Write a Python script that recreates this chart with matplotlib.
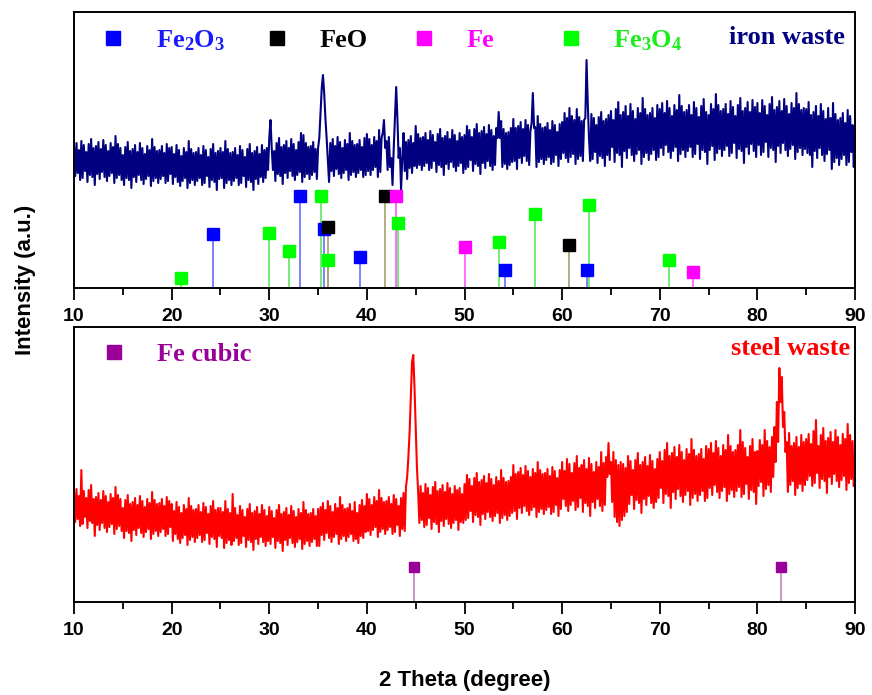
import numpy as np
import matplotlib
matplotlib.use("Agg")
import matplotlib.pyplot as plt

plt.rcParams["mathtext.fontset"] = "custom"
plt.rcParams["mathtext.bf"] = "Liberation Serif:bold"
plt.rcParams["mathtext.rm"] = "Liberation Serif:bold"
plt.rcParams["mathtext.default"] = "bf"

# XRD scans, 2-theta step 0.125 deg from 10 to 90 (intensity in a.u.), one row = 5 deg
step = 0.125
iron = [
    141, 112, 145, 115, 138, 108, 147, 110, 143, 117, 136, 106, 144, 113, 149, 111, 140, 103, 142, 114,
    146, 109, 139, 116, 148, 111, 143, 107, 137, 112, 145, 115, 141, 105, 152, 110, 144, 113, 140, 108,
    133, 103, 141, 110, 146, 108, 137, 100, 139, 111, 143, 106, 136, 113, 145, 108, 140, 104, 134, 109,
    142, 112, 138, 102, 149, 107, 141, 110, 137, 105, 138, 109, 142, 112, 135, 105, 144, 107, 140, 114,
    141, 104, 134, 111, 143, 106, 138, 102, 132, 107, 140, 110, 136, 100, 147, 105, 139, 108, 135, 103,
    136, 107, 140, 110, 133, 103, 142, 105, 138, 112, 131, 101, 139, 108, 144, 106, 135, 98, 137, 109,
    140, 110, 136, 100, 147, 105, 139, 108, 135, 103, 136, 107, 140, 110, 133, 103, 142, 105, 138, 112,
    131, 101, 139, 108, 144, 106, 135, 98, 137, 109, 141, 104, 134, 111, 143, 106, 138, 110, 140, 118,
    150, 168, 140, 118, 137, 107, 145, 114, 150, 112, 141, 104, 143, 115, 147, 110, 140, 117, 149, 112,
    144, 108, 138, 113, 146, 116, 155, 106, 153, 111, 145, 114, 141, 109, 142, 113, 146, 116, 139, 109,
    140, 150, 175, 200, 213, 195, 170, 150, 128, 106, 145, 117, 149, 112, 142, 119, 151, 114, 146, 110,
    140, 115, 148, 118, 144, 108, 155, 113, 147, 116, 143, 111, 144, 115, 148, 118, 141, 111, 150, 113,
    154, 117, 149, 113, 143, 118, 151, 121, 147, 111, 158, 116, 150, 155, 168, 140, 147, 118, 151, 121,
    130, 103, 140, 170, 201, 170, 130, 140, 98, 130, 155, 117, 146, 109, 148, 120, 152, 115, 145, 122,
    162, 120, 154, 123, 150, 118, 151, 122, 155, 125, 148, 118, 157, 120, 153, 127, 146, 116, 154, 123,
    159, 121, 150, 113, 152, 124, 156, 119, 149, 126, 158, 121, 153, 117, 147, 122, 155, 125, 151, 115,
    153, 119, 162, 121, 158, 128, 151, 117, 159, 124, 164, 122, 155, 114, 157, 125, 161, 120, 154, 127,
    163, 122, 158, 118, 152, 123, 160, 150, 176, 150, 167, 121, 159, 124, 155, 119, 156, 123, 160, 126,
    169, 127, 160, 119, 162, 130, 166, 125, 159, 132, 168, 127, 163, 123, 157, 165, 195, 160, 161, 121,
    172, 126, 164, 129, 160, 124, 161, 128, 165, 131, 158, 124, 167, 126, 163, 133, 156, 122, 164, 129,
    166, 135, 175, 130, 170, 126, 180, 131, 172, 134, 168, 124, 179, 129, 171, 132, 167, 127, 168, 170,
    228, 185, 150, 127, 174, 129, 170, 136, 163, 125, 171, 132, 176, 130, 167, 122, 169, 133, 173, 128,
    177, 141, 168, 126, 179, 135, 186, 133, 173, 121, 176, 137, 182, 130, 172, 140, 184, 133, 177, 127,
    169, 134, 180, 138, 175, 124, 190, 131, 179, 135, 173, 128, 175, 134, 180, 138, 170, 128, 183, 131,
    179, 140, 185, 133, 175, 143, 187, 136, 180, 130, 172, 137, 183, 141, 178, 127, 193, 134, 182, 138,
    176, 131, 178, 137, 183, 141, 173, 131, 186, 134, 180, 144, 171, 129, 182, 138, 189, 136, 176, 124,
    173, 138, 184, 142, 179, 128, 194, 135, 183, 139, 177, 132, 179, 138, 184, 142, 174, 132, 187, 135,
    181, 145, 172, 130, 183, 139, 190, 137, 177, 125, 180, 141, 186, 134, 176, 144, 188, 137, 181, 131,
    185, 143, 175, 133, 188, 136, 182, 146, 173, 131, 184, 140, 191, 138, 178, 126, 181, 142, 187, 135,
    177, 145, 189, 138, 182, 132, 174, 139, 185, 143, 180, 129, 195, 136, 184, 140, 178, 133, 180, 139,
    179, 135, 186, 133, 173, 121, 176, 137, 182, 130, 172, 140, 184, 133, 177, 127, 169, 134, 180, 138,
    170, 119, 185, 126, 174, 130, 168, 123, 170, 129, 175, 133, 165, 123, 178, 126, 172, 136, 163, 121,
    150,
]
steel = [
    109, 80, 113, 83, 106, 76, 132, 78, 111, 85, 104, 74, 112, 81, 117, 79, 103, 66, 105, 77,
    109, 72, 102, 79, 111, 74, 106, 70, 100, 75, 108, 78, 104, 68, 115, 73, 107, 76, 103, 71,
    94, 64, 102, 71, 107, 69, 98, 61, 100, 72, 104, 67, 97, 74, 106, 69, 101, 65, 95, 70,
    103, 73, 99, 63, 110, 68, 102, 71, 98, 66, 99, 70, 103, 73, 96, 66, 105, 68, 101, 75,
    98, 61, 91, 68, 100, 63, 95, 59, 89, 64, 97, 67, 93, 57, 104, 62, 96, 65, 92, 60,
    93, 64, 97, 67, 90, 60, 99, 62, 95, 69, 88, 58, 96, 65, 101, 63, 92, 55, 94, 66,
    94, 64, 90, 54, 101, 59, 93, 62, 89, 57, 108, 61, 94, 64, 87, 57, 96, 59, 92, 66,
    85, 55, 93, 62, 98, 60, 89, 52, 91, 63, 95, 58, 88, 65, 97, 60, 92, 56, 86, 61,
    95, 58, 91, 65, 84, 54, 92, 61, 97, 59, 88, 51, 90, 62, 94, 57, 87, 64, 96, 59,
    91, 55, 85, 60, 93, 63, 89, 53, 100, 58, 92, 61, 88, 56, 89, 60, 93, 63, 86, 56,
    93, 56, 95, 67, 99, 62, 92, 69, 101, 64, 96, 60, 90, 65, 98, 68, 94, 58, 105, 63,
    97, 66, 93, 61, 94, 65, 98, 68, 91, 61, 100, 63, 89, 59, 97, 66, 102, 64, 96, 70,
    108, 71, 103, 67, 97, 72, 105, 75, 101, 65, 112, 70, 104, 73, 100, 68, 101, 72, 105, 75,
    98, 68, 107, 70, 103, 77, 96, 66, 104, 73, 109, 71, 115, 125, 145, 170, 205, 240, 247, 215,
    175, 135, 110, 79, 116, 82, 109, 75, 118, 77, 114, 84, 107, 73, 115, 80, 120, 78, 111, 70,
    113, 81, 117, 76, 110, 83, 119, 78, 114, 74, 108, 79, 116, 82, 112, 72, 114, 80, 108, 79,
    118, 82, 127, 84, 123, 91, 116, 80, 124, 87, 129, 85, 120, 77, 122, 88, 126, 83, 119, 90,
    128, 85, 123, 81, 117, 86, 125, 89, 121, 79, 132, 84, 124, 87, 120, 82, 121, 86, 125, 89,
    137, 91, 128, 83, 130, 94, 134, 89, 127, 96, 136, 91, 131, 87, 125, 92, 133, 95, 129, 85,
    140, 90, 132, 93, 128, 88, 129, 92, 133, 95, 126, 88, 135, 90, 131, 97, 124, 86, 132, 93,
    140, 103, 131, 96, 143, 91, 138, 97, 129, 101, 139, 92, 146, 95, 134, 104, 137, 90, 142, 99,
    133, 96, 144, 86, 138, 100, 130, 94, 140, 103, 135, 96, 150, 91, 139, 97, 145, 125, 159, 128,
    140, 100, 150, 85, 142, 80, 137, 76, 140, 82, 138, 86, 134, 90, 146, 98, 141, 107, 132, 93,
    142, 102, 149, 99, 137, 89, 140, 103, 145, 97, 136, 106, 147, 99, 141, 94, 133, 100, 143, 104,
    150, 114, 141, 99, 152, 108, 159, 106, 146, 94, 149, 110, 155, 103, 145, 113, 157, 106, 150, 100,
    142, 107, 153, 111, 148, 97, 163, 104, 152, 108, 146, 101, 148, 107, 153, 111, 143, 101, 156, 104,
    153, 114, 159, 107, 149, 117, 161, 110, 154, 104, 146, 111, 157, 115, 152, 101, 167, 108, 156, 112,
    150, 105, 152, 111, 157, 115, 172, 105, 160, 108, 154, 118, 145, 103, 156, 112, 163, 110, 150, 98,
    151, 116, 162, 120, 157, 106, 172, 113, 161, 117, 155, 110, 165, 125, 175, 140, 200, 160, 234, 200,
    225, 175, 190, 150, 160, 110, 169, 117, 156, 121, 159, 107, 165, 114, 155, 118, 167, 111, 160, 117,
    163, 122, 168, 126, 158, 116, 171, 119, 182, 129, 156, 114, 167, 123, 174, 121, 161, 109, 164, 125,
    170, 118, 160, 128, 172, 121, 165, 115, 157, 122, 168, 126, 163, 112, 178, 119, 167, 123, 161, 116,
    140,
]
assert len(iron) == 641 and len(steel) == 641

# reference patterns (position, relative height)
fe2o3_pos = [24.2, 33.1, 35.6, 39.3, 54.1, 62.5]
fe2o3_h = [54, 92, 59, 31, 18, 18]
fe3o4_pos = [21.0, 30.0, 32.0, 35.3, 36.0, 43.2, 53.5, 57.2, 62.8, 70.9]
fe3o4_h = [10, 55, 37, 92, 28, 65, 46, 74, 83, 28]
feo_pos = [36.0, 41.9, 60.7]
feo_h = [61, 92, 43]
fe_pos = [43.0, 50.0, 73.4]
fe_h = [92, 41, 16]
fecub_pos = [44.8, 82.4]
fecub_h = [35, 35]

theta_i = 10 + step * np.arange(len(iron))
theta_s = 10 + step * np.arange(len(steel))

fig = plt.figure(figsize=(8.72, 6.95), dpi=100)
ax1 = fig.add_axes([0.0849, 0.5856, 0.8956, 0.3971])
ax2 = fig.add_axes([0.0849, 0.1338, 0.8956, 0.3957])

serif = "Liberation Serif"

def stems(ax, pos, h, stem_c, mark_c, ms=8.4):
    for p, v in zip(pos, h):
        ax.plot([p, p], [0, v], color=stem_c, lw=1.2, zorder=2)
    ax.plot(pos, h, "s", color=mark_c, ms=ms, mec=mark_c, zorder=3, clip_on=False)

ax1.plot(theta_i, iron, color="#000080", lw=1.5, zorder=1)
stems(ax1, fe2o3_pos, fe2o3_h, "#6b6bff", "#0000ff")
stems(ax1, fe3o4_pos, fe3o4_h, "#5ee65e", "#00ff00")
stems(ax1, feo_pos, feo_h, "#a89f6a", "#000000")
stems(ax1, fe_pos, fe_h, "#ff55ff", "#ff00ff")

# phase legend row
leg = [(13.97, 18.4, r"Fe$_{2}$O$_{3}$", "#0000ff", "#1a1aff"),
       (30.77, 35.1, "FeO", "#000000", "#000000"),
       (45.86, 50.2, "Fe", "#ff00ff", "#ff00ff"),
       (60.9, 65.2, r"Fe$_{3}$O$_{4}$", "#00ff00", "#1aee1a")]
for mx, tx, lab, mc, tc in leg:
    ax1.plot([mx], [250], "s", color=mc, ms=10)
    ax1.text(tx, 241, lab, color=tc, fontsize=19, fontweight="bold",
             family=serif, va="baseline", ha="left")
ax1.text(89.0, 244, "iron waste", color="#000080", fontsize=19, fontweight="bold",
         family=serif, va="baseline", ha="right")

ax2.plot(theta_s, steel, color="#ff0000", lw=1.5, zorder=1)
stems(ax2, fecub_pos, fecub_h, "#c080c0", "#990099", ms=7.7)
ax2.plot([14.1], [250], "s", color="#990099", ms=10)
ax2.text(18.5, 241, "Fe cubic", color="#990099", fontsize=19, fontweight="bold",
         family=serif, va="baseline", ha="left")
ax2.text(89.5, 247, "steel waste", color="#ff0000", fontsize=19, fontweight="bold",
         family=serif, va="baseline", ha="right")

for ax, top in ((ax1, 276), (ax2, 275)):
    ax.set_xlim(10, 90)
    ax.set_ylim(0, top)
    ax.set_yticks([])
    ax.set_xticks(np.arange(10, 91, 10))
    ax.set_xticks(np.arange(15, 90, 10), minor=True)
    ax.tick_params(axis="x", which="major", direction="out", length=8.6, width=1.3, pad=6)
    ax.tick_params(axis="x", which="minor", direction="out", length=5, width=1.3)
    for s in ax.spines.values():
        s.set_linewidth(1.4)
    for lab in ax.get_xticklabels():
        lab.set_fontfamily("Liberation Sans")
        lab.set_fontweight("bold")
        lab.set_fontsize(14)

fig.text(0.533, 0.021, "2 Theta (degree)", ha="center", va="center",
         fontsize=16, fontweight="bold", family="Liberation Sans")
fig.text(0.029, 0.597, "Intensity (a.u.)", ha="center", va="center", rotation=90,
         fontsize=16, fontweight="bold", family="Liberation Sans")

fig.savefig("out.png", dpi=100)
